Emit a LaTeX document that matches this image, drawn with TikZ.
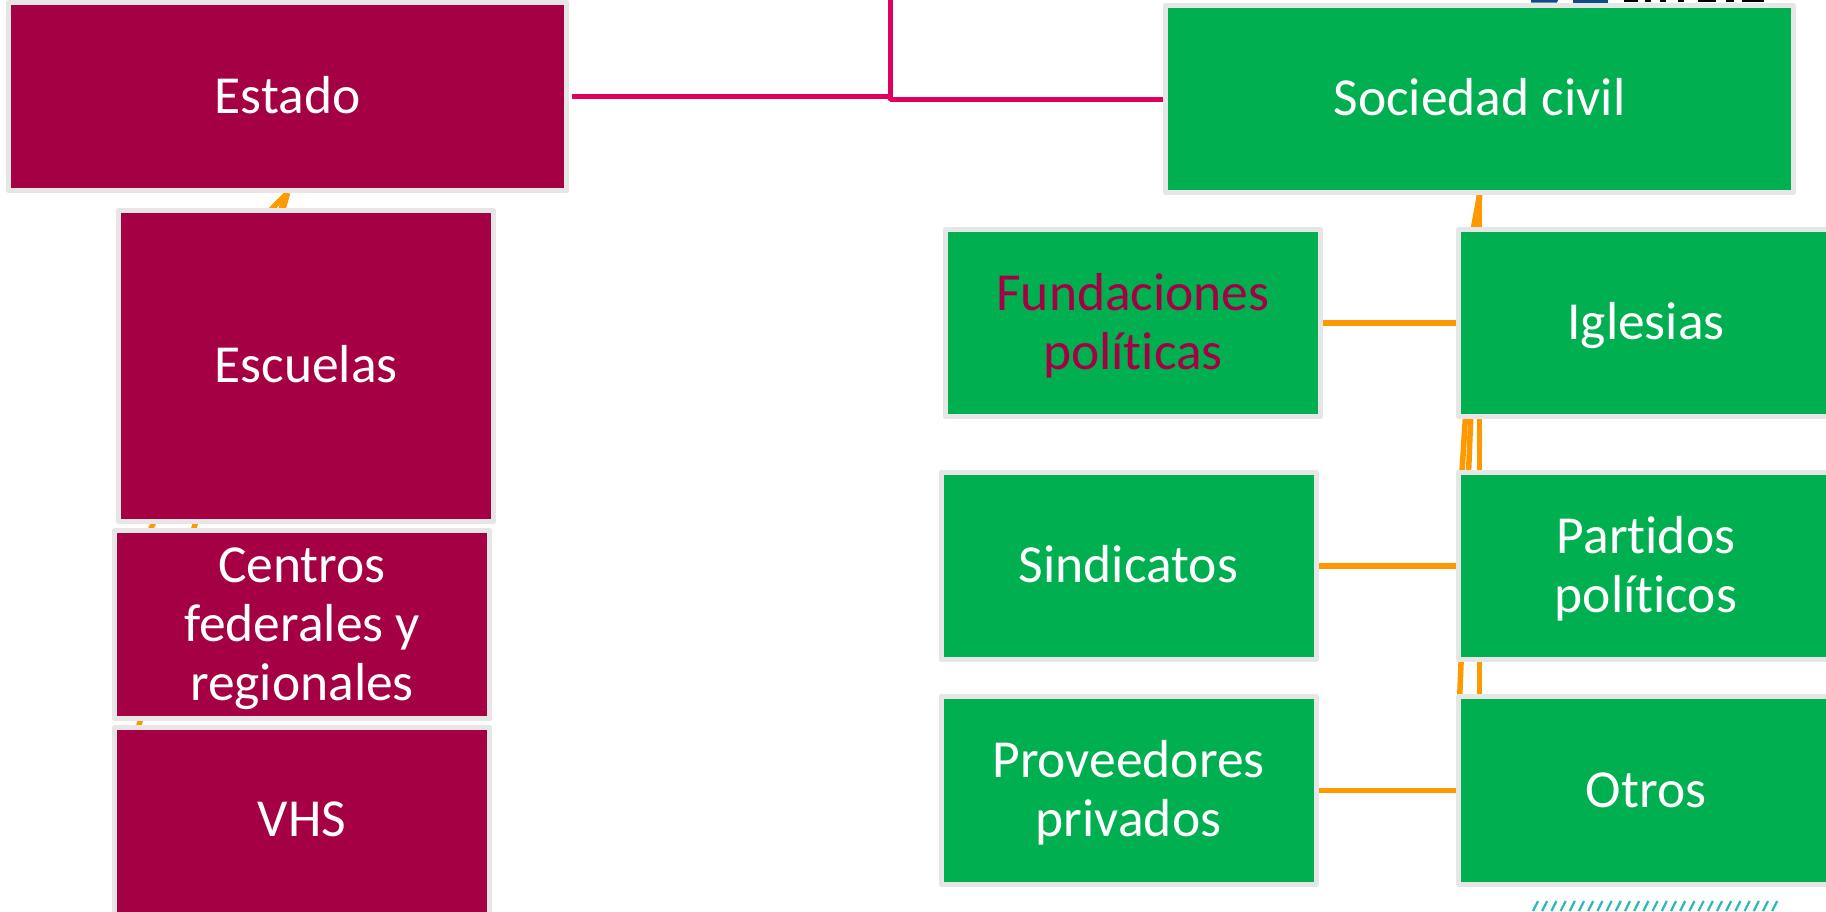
\documentclass[tikz,border=0pt]{standalone}
\usepackage{fontspec}
\setmainfont{Carlito}[Ligatures=NoCommon]
\definecolor{maroon}{HTML}{A50044}
\definecolor{grn}{HTML}{00B050}
\definecolor{edge}{HTML}{E7E6E6}
\definecolor{mag}{HTML}{E0005F}
\definecolor{org}{HTML}{FF9900}
\definecolor{hatch}{HTML}{2BB8B8}
\definecolor{logoblue}{HTML}{0F4C8A}
\pgfdeclarelayer{back}
\pgfsetlayers{back,main}
\newcommand{\stt}{\rule{0pt}{.93em}}
\newcommand{\stb}{\rule[-.31em]{0pt}{0pt}}
\tikzset{
 x=1pt,y=-1pt,
 boxbase/.style={draw=edge,line width=5pt,line join=round,minimum width=#1,inner sep=0pt,align=center,font=\fontsize{53.5}{59}\selectfont,text=white},
 mbox/.style={boxbase=#1,fill=maroon},
 gbox/.style={boxbase=#1,fill=grn},
 olink/.style={draw=org,line width=5.5pt},
 fanlink/.style={olink,shorten >=70pt},
 mlink/.style={draw=mag,line width=5pt},
}
\begin{document}
\begin{tikzpicture}
\path[use as bounding box] (0,0) rectangle (1826,911);
\clip (0,0) rectangle (1826,911);
% logo sliver and hatching
\fill[logoblue] (1531,0) -- (1558,0) -- (1557,2.5) -- (1531,2.5) -- cycle;
\fill[logoblue] (1573,0) -- (1608,0) -- (1608,2.5) -- (1573,2.5) -- cycle;
\foreach \a/\b in {1624/1638,1645/1651,1660/1666,1678/1684,1698/1716,1726/1734,1742/1764}
  \fill[black] (\a,0) rectangle (\b,2);
\foreach \i in {0,...,26}
  \draw[hatch,line width=2.2pt] ({1533+9.2*\i},911) -- ({1538+9.2*\i},901);
% boxes
\node[mbox={558pt},minimum height=188pt] (estado) at (287.5,96.5) {\stt\stb Estado};
\node[mbox={375pt},minimum height=311pt] (escuelas) at (306,366) {\stt\stb Escuelas};
\node[mbox={375pt},minimum height=188pt] (centros) at (302,624.5) {\stt Centros\\federales y\\\stb regionales};
\node[mbox={375pt},minimum height=189pt] (vhs) at (302,822) {\stt\rule[-20.6pt]{0pt}{0pt}VHS};
\node[gbox={628pt},minimum height=187pt] (soc) at (1479.5,99) {\stt\stb Sociedad civil};
\node[gbox={375pt},minimum height=187pt,text=maroon] (fund) at (1133,323) {\stt Fundaciones\\\stb políticas};
\node[gbox={375pt},minimum height=187pt] (sind) at (1128.5,566) {\stt\stb Sindicatos};
\node[gbox={375pt},minimum height=188pt] (prov) at (1128.5,790.5) {\stt Proveedores\\\stb privados};
\node[gbox={375pt},minimum height=187pt] (igl) at (1646,323) {\stt\stb Iglesias};
\node[gbox={375pt},minimum height=187pt] (part) at (1646,566) {\stt Partidos\\\stb políticos};
\node[gbox={375pt},minimum height=188pt] (otros) at (1646,790.5) {\stt\stb Otros};
\coordinate (top) at (890,-5);
% connectors
\begin{pgfonlayer}{back}
\draw[mlink,line cap=round] (top) -- (top |- soc.west);
\draw[mlink,shorten <=3pt] (estado.east) -- (estado.east -| top);
\draw[mlink] (soc.west -| top) -- (soc.west);
\draw[fanlink] (estado.south) -- (escuelas.west);
\draw[fanlink] (estado.south) -- (centros.west);
\draw[fanlink] (estado.south) -- (vhs.west);
\draw[fanlink] (soc.south) -- (igl.west);
\draw[fanlink] (soc.south) -- (part.west);
\draw[fanlink] (soc.south) -- (otros.west);
\draw[olink] (soc.south) -- (soc.south |- otros.west);
\draw[olink] (fund.east) -- (igl.west);
\draw[olink] (sind.east) -- (part.west);
\draw[olink] (prov.east) -- (otros.west);
\end{pgfonlayer}
\end{tikzpicture}
\end{document}
